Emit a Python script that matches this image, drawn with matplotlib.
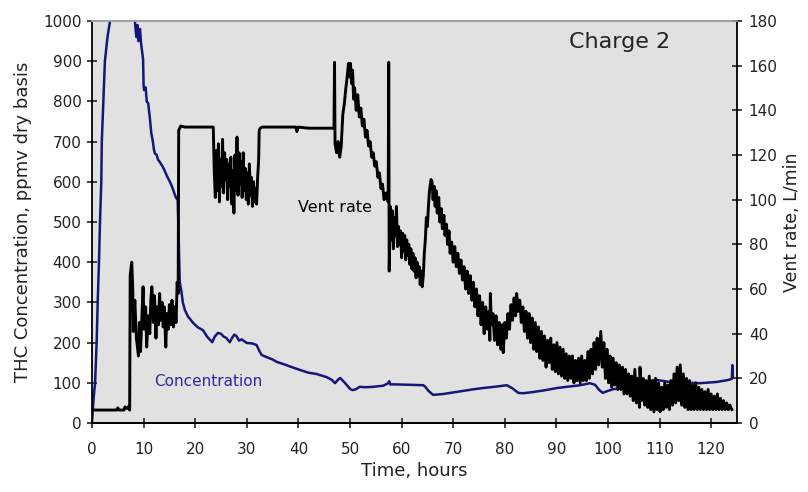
# plot.py
# THC concentration and vent rate vs time, charge 2

import matplotlib
matplotlib.use("Agg")
import matplotlib.pyplot as plt

# concentration (ppmv dry basis) : (hours, value)
concentration = [
    (0, 0), (0.3, 60), (0.6, 100), (0.9, 200), (1.1, 300), (1.35, 400), (1.55, 500),
    (1.8, 600), (1.9, 700), (2.2, 800), (2.5, 900), (3.0, 960), (3.5, 1000), (4.0, 1100),
    (8.0, 1100), (8.3, 1000), (8.6, 960), (8.8, 990), (9.0, 950), (9.3, 980), (9.5, 945),
    (9.9, 905), (10.0, 840), (10.1, 828), (10.4, 835), (10.6, 800), (10.9, 795), (11.2, 760),
    (11.5, 720), (11.8, 700), (12.0, 680), (12.2, 670), (12.5, 668), (12.8, 655), (13.1, 650),
    (13.6, 640), (14.0, 630), (14.5, 615), (15.1, 600), (15.6, 585), (16.0, 570), (16.3, 560),
    (16.6, 555), (16.8, 460), (17.0, 351), (17.3, 330), (17.6, 300), (18.0, 281), (18.6, 265),
    (19.6, 249), (20.5, 238), (21.5, 231), (22.3, 215), (23.3, 201), (23.8, 215), (24.4, 224),
    (25.0, 222), (25.5, 215), (26.0, 212), (26.7, 201), (27.2, 213), (27.6, 220), (28.0, 216),
    (28.5, 205), (29.0, 208), (30.0, 199), (31.0, 198), (31.9, 194), (32.4, 180), (32.9, 169),
    (34.0, 163), (35.0, 158), (35.8, 152), (37.0, 147), (38.5, 140), (40.3, 132), (42.0, 125),
    (43.5, 122), (45.5, 114), (46.5, 107), (47.1, 99), (47.7, 108), (48.1, 112), (49.0, 100),
    (50.0, 85), (50.4, 82), (51.0, 83), (51.9, 90), (53.0, 89), (54.5, 90), (56.5, 93),
    (57.4, 99), (57.6, 104), (57.8, 96), (59.0, 96), (62.0, 95), (64.2, 94), (64.6, 90),
    (65.2, 80), (66.1, 70), (67.0, 71), (68.0, 72), (70.0, 76), (72.0, 80), (74.0, 84),
    (75.8, 87), (78.0, 90), (80.4, 94), (81.5, 86), (82.6, 75), (83.5, 74), (85.5, 77),
    (88.0, 82), (90.1, 87), (92.0, 90), (94.6, 94), (96.5, 99), (97.5, 95), (98.3, 82),
    (99.0, 75), (100.0, 80), (101.0, 84), (104.0, 90), (107.0, 100), (109.5, 107), (112.0, 102),
    (114.0, 101), (117.8, 99), (121.0, 102), (123.3, 107), (124.0, 110), (124.1, 144), (124.2, 115),
]

# vent rate (L/min) : (hours, value)
vent_rate = [
    (0, 5.8), (4.8, 5.8), (5.0, 6.8), (5.2, 5.8), (6.2, 5.8), (6.4, 7.2), (6.8, 6.5), (7.1, 7.5),
    (7.3, 5.8), (7.4, 66), (7.7, 72), (7.9, 60), (8.0, 41), (8.3, 55), (8.6, 38), (9.0, 30),
    (9.2, 45), (9.4, 32), (9.7, 50), (9.9, 61), (10.1, 42), (10.4, 52), (10.6, 34), (10.9, 48),
    (11.2, 40), (11.4, 55), (11.6, 61), (11.9, 45), (12.1, 57), (12.4, 38), (12.6, 52), (12.9, 44),
    (13.1, 58), (13.3, 46), (13.6, 54), (13.8, 43), (14.0, 52), (14.3, 34), (14.5, 49), (14.8, 42),
    (15.0, 53), (15.3, 44), (15.5, 55), (15.8, 43), (16.0, 52), (16.3, 45), (16.5, 63), (16.7, 58),
    (16.8, 131), (17.2, 133), (18.0, 132.5), (23.5, 132.5),
    (23.7, 112), (23.9, 101), (24.1, 122), (24.3, 104), (24.5, 125), (24.7, 99), (24.9, 118),
    (25.1, 106), (25.3, 127), (25.5, 103), (25.7, 121), (25.9, 109), (26.1, 118), (26.3, 100),
    (26.5, 116), (26.7, 106), (26.9, 119), (27.1, 98), (27.3, 113), (27.5, 94), (27.7, 120),
    (27.9, 104), (28.1, 128), (28.3, 102), (28.5, 121), (28.7, 107), (28.9, 117), (29.1, 101),
    (29.3, 121), (29.5, 104), (29.7, 114), (29.9, 100), (30.1, 112), (30.3, 98), (30.5, 116),
    (30.7, 102), (30.9, 110), (31.1, 97), (31.3, 108), (31.5, 99), (31.7, 105), (31.9, 98),
    (32.1, 110), (32.3, 118), (32.4, 131), (32.6, 132), (33.0, 132.5), (39.5, 132.5),
    (39.7, 130.5), (40.0, 132.5), (42.0, 132), (46.9, 132),
    (47.0, 161.5), (47.1, 125), (47.4, 121), (47.7, 126), (48.0, 119), (48.3, 124), (48.6, 138),
    (48.9, 143), (49.2, 150), (49.5, 156), (49.7, 161), (49.9, 155), (50.1, 161), (50.3, 152),
    (50.5, 158), (50.7, 145), (50.9, 150), (51.2, 140), (51.5, 147), (51.8, 137), (52.1, 141),
    (52.4, 133), (52.7, 136), (53.0, 128), (53.3, 131), (53.6, 124), (53.9, 126), (54.2, 119),
    (54.5, 121), (54.8, 115), (55.1, 117), (55.4, 110), (55.7, 112), (56.0, 105), (56.3, 107),
    (56.6, 100), (57.0, 103), (57.4, 99), (57.5, 161.5), (57.6, 68),
    (57.8, 97), (58.0, 82), (58.2, 95), (58.4, 78), (58.6, 92), (58.8, 84), (59.0, 97),
    (59.2, 79), (59.4, 88), (59.6, 80), (59.8, 86), (60.0, 74), (60.2, 85), (60.4, 77),
    (60.6, 84), (60.8, 73), (61.0, 82), (61.2, 75), (61.4, 80), (61.6, 71), (61.8, 78),
    (62.0, 69), (62.2, 76), (62.4, 68), (62.6, 74), (62.8, 65), (63.0, 72), (63.2, 66),
    (63.4, 70), (63.6, 62), (63.8, 68), (64.0, 61), (64.2, 66),
    (64.4, 76), (64.6, 82), (64.8, 92), (65.0, 88), (65.2, 97), (65.4, 104), (65.7, 109),
    (65.9, 108), (66.1, 100), (66.3, 106), (66.5, 97), (66.7, 104), (66.9, 94), (67.2, 101),
    (67.4, 90), (67.7, 96), (67.9, 87), (68.2, 93), (68.4, 84), (68.7, 89), (68.9, 80),
    (69.2, 86), (69.4, 76), (69.7, 81), (70.0, 72), (70.3, 79), (70.6, 70), (70.9, 76),
    (71.2, 67), (71.5, 73), (71.8, 64), (72.1, 70), (72.4, 60), (72.7, 68), (73.0, 58),
    (73.3, 66), (73.6, 55), (73.9, 63), (74.2, 52), (74.5, 60), (74.8, 48), (75.1, 57),
    (75.4, 44), (75.7, 54), (76.0, 40), (76.3, 52), (76.6, 42), (76.9, 50), (77.1, 37),
    (77.2, 58), (77.4, 44), (77.7, 49), (78.0, 37), (78.3, 48), (78.6, 35), (78.9, 45),
    (79.2, 33), (79.5, 44), (79.7, 31.5), (80.0, 45), (80.3, 38), (80.6, 49), (80.9, 42),
    (81.2, 53), (81.5, 46), (81.8, 56), (82.1, 48), (82.3, 58), (82.6, 50), (82.9, 55),
    (83.2, 45), (83.5, 52), (83.8, 41), (84.1, 50), (84.4, 38), (84.7, 49), (85.0, 36),
    (85.3, 47), (85.6, 33), (85.9, 45), (86.2, 32), (86.5, 43), (86.8, 29), (87.1, 41),
    (87.4, 28), (87.7, 39), (88.0, 25), (88.3, 37), (88.6, 27), (88.9, 38), (89.2, 24),
    (89.5, 35), (89.8, 23), (90.1, 36), (90.4, 22), (90.7, 34), (91.0, 21), (91.3, 33),
    (91.6, 20), (91.9, 31), (92.2, 19), (92.5, 30), (92.8, 20), (93.1, 30), (93.4, 18),
    (93.7, 28), (94.0, 19), (94.3, 29), (94.6, 18), (94.9, 30), (95.2, 19), (95.5, 28),
    (95.8, 19), (96.1, 32), (96.4, 20), (96.7, 33), (97.0, 22), (97.3, 36), (97.6, 24),
    (97.9, 38), (98.2, 26), (98.6, 41), (98.9, 25), (99.2, 36), (99.5, 20), (99.8, 33),
    (100.1, 18), (100.4, 30), (100.7, 16), (101.0, 29), (101.3, 17), (101.6, 27), (101.9, 15),
    (102.2, 26), (102.5, 15), (102.8, 25), (103.1, 13), (103.4, 24), (103.7, 13), (104.0, 22),
    (104.3, 12), (104.6, 21), (104.9, 10), (105.2, 24), (105.5, 9), (105.8, 20), (106.1, 7),
    (106.2, 25), (106.5, 10), (106.8, 20), (107.1, 8), (107.4, 19), (107.7, 7), (108.0, 21),
    (108.3, 6), (108.6, 19), (108.9, 5), (109.2, 20), (109.5, 6), (109.8, 18), (110.1, 5),
    (110.4, 16), (110.7, 6), (111.0, 18), (111.3, 7), (111.6, 17), (111.9, 6), (112.2, 19),
    (112.5, 8), (112.8, 22), (113.1, 9), (113.4, 25), (113.7, 10), (114.0, 26), (114.3, 8),
    (114.6, 22), (114.9, 7), (115.2, 20), (115.5, 6), (115.8, 19), (116.1, 6), (116.4, 17),
    (116.7, 6), (117.0, 18), (117.3, 6), (117.6, 16), (117.9, 6), (118.2, 15), (118.5, 6),
    (118.8, 14), (119.1, 6), (119.4, 15), (119.7, 6), (120.0, 13), (120.3, 6), (120.6, 12),
    (120.9, 6), (121.2, 13), (121.5, 6), (121.8, 11), (122.1, 6), (122.4, 10), (122.7, 6),
    (123.0, 9), (123.3, 6), (123.6, 8), (124.0, 6),
]

x_ticks = list(range(0, 121, 10))
conc_ticks = list(range(0, 1001, 100))
vent_ticks = list(range(0, 181, 20))

conc_t, conc_v = zip(*concentration)
vent_t, vent_v = zip(*vent_rate)

plt.rcParams['font.family'] = ['DejaVu Sans']
text_col = '#222222'
navy = '#16167a'

fig = plt.figure(figsize=(8.08, 4.92), dpi=100)
ax = fig.add_axes([92 / 808, 69 / 492, 645 / 808, 402 / 492])
ax.set_facecolor('#e1e1e1')

ax.plot(conc_t, conc_v, color=navy, lw=1.8, zorder=2)
ax.set_xlim(0, 125)
ax.set_ylim(0, 1000)
ax.set_xticks(x_ticks)
ax.set_yticks(conc_ticks)
ax.tick_params(axis='y', direction='inout', length=7, width=1.2, labelsize=11, pad=4, colors=text_col)
ax.tick_params(axis='x', direction='inout', length=7, width=1.2, labelsize=11, pad=10, colors=text_col)
ax.set_xlabel('Time, hours', fontsize=13, color=text_col, labelpad=4)
ax.set_ylabel('THC Concentration, ppmv dry basis', fontsize=13, color=text_col, labelpad=8)

# vent rate on the right axis
ax2 = ax.twinx()
ax2.plot(vent_t, vent_v, color='black', lw=2.1)
ax2.set_ylim(0, 180)
ax2.set_yticks(vent_ticks)
ax2.tick_params(axis='y', direction='inout', length=7, width=1.2, labelsize=11, pad=5, colors=text_col)
ax2.set_ylabel('Vent rate, L/min', fontsize=12.5, color=text_col, labelpad=4)

for a in (ax, ax2):
    for side in ('left', 'right', 'bottom'):
        a.spines[side].set_color('black')
        a.spines[side].set_linewidth(1.3)
    a.spines['top'].set_color('#a0a0a0')
    a.spines['top'].set_linewidth(1.2)
ax.spines['right'].set_visible(False)
ax2.spines['left'].set_visible(False)

ax.text(102.3, 948, 'Charge 2', fontsize=16, color=text_col, ha='center', va='center')
ax.text(47.1, 535, 'Vent rate', fontsize=11.5, color='black', ha='center', va='center')
ax.text(22.5, 102, 'Concentration', fontsize=11, color='#2a2a9c', ha='center', va='center')

fig.savefig('out.png', dpi=100)
